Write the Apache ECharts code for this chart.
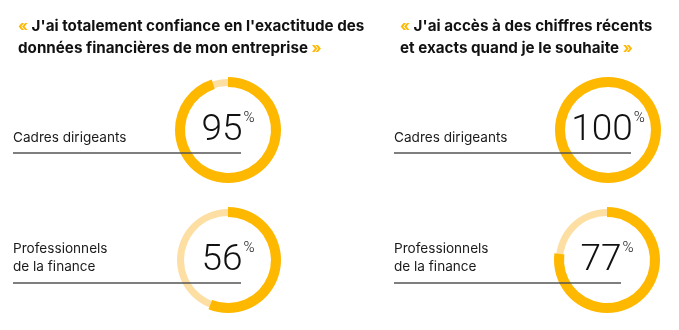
<!DOCTYPE html>
<html><head><meta charset="utf-8">
<script src="https://cdn.jsdelivr.net/npm/echarts@6/dist/echarts.min.js"></script>
<style>html,body{margin:0;padding:0;background:#fff}#c{width:679px;height:330px}</style>
</head><body><div id="c"></div>
<script>
// Data
const panelTitles = [
  ["J'ai totalement confiance en l'exactitude des", "données financières de mon entreprise"],
  ["J'ai accès à des chiffres récents", "et exacts quand je le souhaite"]
];
const rowLabels = [["Cadres dirigeants"], ["Professionnels", "de la finance"]];
const valuesPanel1 = [95, 56];
const valuesPanel2 = [100, 77];

const ORANGE = '#FFB800', LIGHT = '#FDDFA3', INK = '#111111', LINE = '#555555';
const chart = echarts.init(document.getElementById('c'), null, {renderer: 'canvas'});

const panels = [
  {x0: 13, cx: [228, 228], cy: [130, 260], lineEnd: [241, 241], vals: valuesPanel1, tx: 13},
  {x0: 394, cx: [608, 607], cy: [130, 260], lineEnd: [631, 621], vals: valuesPanel2, tx: 395}
];

const series = [];
const graphic = [];
const titles = [];
const FONT = 'Inter, "Libre Franklin", Roboto, sans-serif';

panels.forEach((p, pi) => {
  titles.push({
    left: p.tx, top: 10,
    text: '{q|«} ' + panelTitles[pi][0] + '\n' + panelTitles[pi][1] + ' {q|»}',
    textStyle: {
      fontFamily: FONT, fontSize: 15.2, fontWeight: 700, color: INK, lineHeight: 22,
      rich: {q: {fontFamily: FONT, fontSize: 15.2, fontWeight: 700, color: ORANGE, lineHeight: 22}}
    }
  });
  p.vals.forEach((v, ri) => {
    series.push({
      type: 'pie', silent: true, center: [p.cx[ri], p.cy[ri]], radius: [44, 51],
      startAngle: 90, label: {show: false}, labelLine: {show: false}, z: 1,
      data: [{value: 1, itemStyle: {color: LIGHT}}]
    });
    series.push({
      type: 'pie', silent: true, center: [p.cx[ri], p.cy[ri]], radius: [43, 53],
      startAngle: 90, clockwise: true, z: 2, labelLine: {show: false},
      avoidLabelOverlap: false,
      data: [
        {value: v, itemStyle: {color: ORANGE}, label: {
          show: true, position: 'center',
          formatter: '{n|' + v + '}{p|%}',
          rich: {
            n: {fontFamily: 'Roboto, sans-serif', fontWeight: 300, fontSize: 37, color: INK, lineHeight: 38, verticalAlign: 'bottom'},
            p: {fontFamily: 'Roboto, sans-serif', fontWeight: 300, fontSize: 15, color: INK, lineHeight: 38, verticalAlign: 'top', padding: [0, 0, 0, 1]}
          }
        }},
        {value: 100 - v, itemStyle: {color: 'rgba(0,0,0,0)'}, label: {show: false}}
      ]
    });
    const lines = rowLabels[ri];
    lines.forEach((t, li) => {
      const mid = (ri === 0 ? 139 : 250 + li * 18);
      graphic.push({
        type: 'text', left: p.x0, top: mid - 8, z: 10,
        style: {text: t, fontFamily: FONT, fontSize: 13.6, fill: '#1a1a1a'}
      });
    });
    const ly = ri === 0 ? 153 : 283;
    graphic.push({
      type: 'line', z: 10,
      shape: {x1: p.x0, y1: ly, x2: p.lineEnd[ri], y2: ly},
      style: {stroke: LINE, lineWidth: 1.5}
    });
  });
});

chart.setOption({
  animation: false,
  title: titles,
  series: series,
  graphic: graphic
});
</script></body></html>
